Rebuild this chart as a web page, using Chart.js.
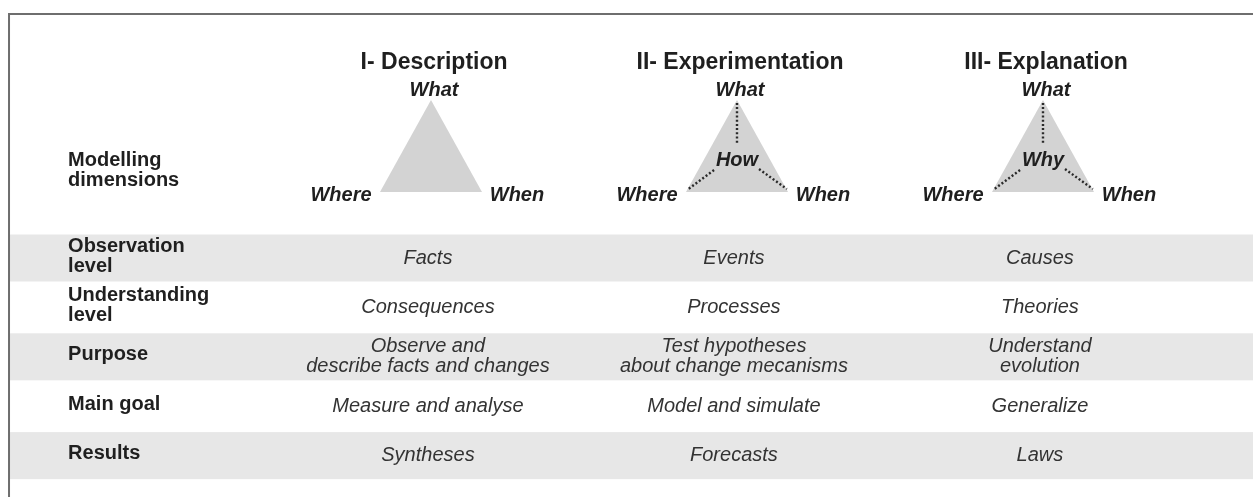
<!DOCTYPE html>
<html>
<head>
<meta charset="utf-8">
<script src="https://cdn.jsdelivr.net/npm/chart.js@4.4.1/dist/chart.umd.min.js"></script>
<style>
  html, body { margin: 0; padding: 0; background: #fff; }
  canvas { display: block; }
</style>
</head>
<body>
<canvas id="myChart" width="1253" height="497"></canvas>
<script>
// table content
const stages = ['I- Description', 'II- Experimentation', 'III- Explanation'];
const cornerWords = ['What', 'Where', 'When'];
const centreWords = ['', 'How', 'Why'];
const headerLabel = ['Modelling', 'dimensions'];
const rowLabels = [
    ['Observation', 'level'],
    ['Understanding', 'level'],
    ['Purpose'],
    ['Main goal'],
    ['Results']
];
const descriptionCells = ['Facts', 'Consequences', ['Observe and', 'describe facts and changes'], 'Measure and analyse', 'Syntheses'];
const experimentationCells = ['Events', 'Processes', ['Test hypotheses', 'about change mecanisms'], 'Model and simulate', 'Forecasts'];
const explanationCells = ['Causes', 'Theories', ['Understand', 'evolution'], 'Generalize', 'Laws'];
const columns = [descriptionCells, experimentationCells, explanationCells];

// layout, in scale units: x = one column per unit (stage i at i+1), y = one table row per unit
const X_MIN = -0.4085, X_MAX = 3.6863;
const Y_MIN = -5.2227, Y_MAX = 4.838;
const LABEL_X = -0.186;
const FRAME_X = -0.379, FRAME_Y = -4.939;
const TITLE_Y = -3.947, WHAT_Y = -3.401, CENTRE_Y = -1.984, BASE_WORD_Y = -1.275;
const HEADER_Y = -1.781;
const APEX_Y = -3.198, BASE_Y = -1.336, HALF_BASE = 0.1667;
const LINE_GAP = 0.405, BAND_HALF = 0.476;

const font = '"Liberation Sans", Arial, sans-serif';

const datasets = [];
stages.forEach((s, i) => {
    const c = i + 1;
    datasets.push({
        data: [{x: c, y: APEX_Y}, {x: c - HALF_BASE, y: BASE_Y}, {x: c + HALF_BASE, y: BASE_Y}, {x: c, y: APEX_Y}],
        showLine: true,
        fill: 'shape',
        backgroundColor: '#d3d3d3',
        borderWidth: 0,
        borderColor: 'rgba(0,0,0,0)',
        pointRadius: 0,
        order: 2
    });
    if (centreWords[i]) {
        // dotted spokes from the centre word to the three corners
        const dotted = {
            showLine: true, fill: false, borderColor: '#2a2a2a', borderWidth: 2.4,
            borderDash: [2, 2.2], pointRadius: 0, order: 1
        };
        datasets.push(Object.assign({data: [{x: c, y: -3.14}, {x: c, y: -2.328}]}, dotted));
        datasets.push(Object.assign({data: [{x: c - 0.075, y: -1.781}, {x: c - 0.163, y: -1.377}]}, dotted));
        datasets.push(Object.assign({data: [{x: c + 0.072, y: -1.80}, {x: c + 0.163, y: -1.397}]}, dotted));
    }
});

const tablePlugin = {
    id: 'table',
    beforeDatasetsDraw(chart) {
        const {ctx, scales: {x, y}} = chart;
        ctx.save();
        ctx.fillStyle = '#e7e7e7';
        rowLabels.forEach((r, i) => {
            if (i % 2) return;
            const top = y.getPixelForValue(i - BAND_HALF);
            const bottom = y.getPixelForValue(i + BAND_HALF);
            const left = x.getPixelForValue(FRAME_X);
            ctx.fillRect(left, top, x.getPixelForValue(X_MAX) - left, bottom - top);
        });
        ctx.strokeStyle = '#6e6e6e';
        ctx.lineWidth = 2;
        ctx.beginPath();
        ctx.moveTo(x.getPixelForValue(X_MAX), y.getPixelForValue(FRAME_Y));
        ctx.lineTo(x.getPixelForValue(FRAME_X), y.getPixelForValue(FRAME_Y));
        ctx.lineTo(x.getPixelForValue(FRAME_X), y.getPixelForValue(Y_MAX));
        ctx.stroke();
        ctx.restore();
    },
    afterDatasetsDraw(chart) {
        const {ctx, scales: {x, y}} = chart;
        const lines = (txt, px, yv) => {
            const arr = Array.isArray(txt) ? txt : [txt];
            arr.forEach((t, k) => {
                const off = (k - (arr.length - 1) / 2) * LINE_GAP;
                ctx.fillText(t, px, y.getPixelForValue(yv + off));
            });
        };
        ctx.save();
        ctx.textBaseline = 'middle';
        ctx.fillStyle = '#1f1f1f';

        // stage titles and triangle words
        ctx.textAlign = 'center';
        ctx.font = 'bold 23px ' + font;
        stages.forEach((s, i) => ctx.fillText(s, x.getPixelForValue(i + 1.01), y.getPixelForValue(TITLE_Y)));
        ctx.font = 'italic bold 20px ' + font;
        stages.forEach((s, i) => {
            const c = i + 1;
            ctx.fillText(cornerWords[0], x.getPixelForValue(c + 0.01), y.getPixelForValue(WHAT_Y));
            ctx.fillText(cornerWords[1], x.getPixelForValue(c - 0.294), y.getPixelForValue(BASE_WORD_Y));
            ctx.fillText(cornerWords[2], x.getPixelForValue(c + 0.281), y.getPixelForValue(BASE_WORD_Y));
            if (centreWords[i]) ctx.fillText(centreWords[i], x.getPixelForValue(c), y.getPixelForValue(CENTRE_Y));
        });

        // row labels
        ctx.textAlign = 'left';
        ctx.font = 'bold 20px ' + font;
        lines(headerLabel, x.getPixelForValue(LABEL_X), HEADER_Y);
        rowLabels.forEach((r, i) => lines(r, x.getPixelForValue(LABEL_X), i - 0.04));

        // cells
        ctx.textAlign = 'center';
        ctx.font = 'italic 20px ' + font;
        ctx.fillStyle = '#333';
        columns.forEach((col, j) => {
            col.forEach((cell, i) => lines(cell, x.getPixelForValue(j + 0.99), i));
        });
        ctx.restore();
    }
};

new Chart(document.getElementById('myChart').getContext('2d'), {
    type: 'scatter',
    data: { datasets: datasets },
    options: {
        responsive: false,
        animation: false,
        devicePixelRatio: 1,
        layout: { padding: 0 },
        scales: {
            x: { type: 'linear', display: false, min: X_MIN, max: X_MAX },
            y: { type: 'linear', display: false, reverse: true, min: Y_MIN, max: Y_MAX }
        },
        plugins: {
            legend: { display: false },
            tooltip: { enabled: false }
        }
    },
    plugins: [tablePlugin]
});
</script>
</body>
</html>
